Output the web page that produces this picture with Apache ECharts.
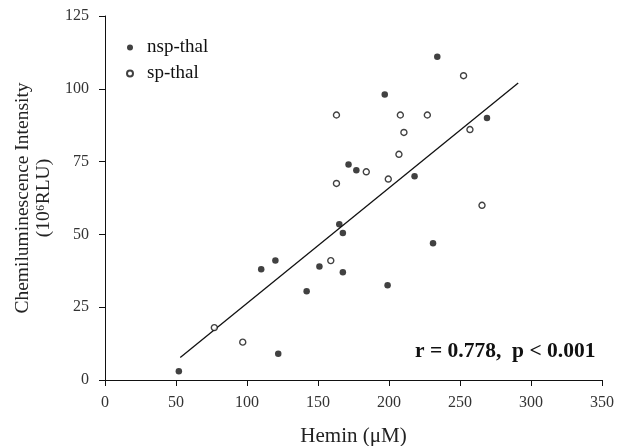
<!DOCTYPE html>
<html>
<head>
<meta charset="utf-8">
<script src="https://cdn.jsdelivr.net/npm/echarts@6/dist/echarts.min.js"></script>
<style>
  html, body { margin: 0; padding: 0; background: #fff; }
  #chart { width: 623px; height: 446px; }
</style>
</head>
<body>
<div id="chart"></div>
<script>
// nsp-thal: [hemin, intensity]
const nspThal = [
  [52, 3], [110, 38], [120, 41], [122, 9], [142, 30.5],
  [151, 39], [165, 53.5], [167.5, 50.5], [167.5, 37], [171.5, 74],
  [177, 72], [197, 98], [199, 32.5], [218, 70], [231, 47],
  [234, 111], [269, 90]
]
// sp-thal
const spThal = [
  [77, 18], [97, 13], [159, 41], [163, 91], [163, 67.5],
  [184, 71.5], [199.5, 69], [207, 77.5], [208, 91], [210.5, 85],
  [227, 91], [252.5, 104.5], [257, 86], [265.5, 60]
]
// 回归线两端
const fitLine = [[53, 7.7], [291, 102]]

const xTicks = { min: 0, max: 350, interval: 50 }
const yTicks = { min: 0, max: 125, interval: 25 }

const serif = '"Liberation Serif", "DejaVu Serif", serif'
const ink = '#111'

const chart = echarts.init(document.getElementById('chart'))

const axisCommon = {
  axisLine: { show: true, lineStyle: { color: ink, width: 1 } },
  axisTick: { show: true, inside: false, length: 6, lineStyle: { color: ink } },
  splitLine: { show: false },
}

const option = {
  backgroundColor: '#fff',
  animation: false,
  textStyle: { fontFamily: serif, color: ink },
  grid: { left: 105, right: 21, top: 16, bottom: 66, outerBoundsMode: 'none', containLabel: false },
  legend: {
    orient: 'vertical',
    left: 121,
    top: 33,
    itemWidth: 6,
    itemHeight: 6,
    itemGap: 7,
    icon: 'circle',
    textStyle: { fontFamily: serif, fontSize: 19, color: ink, padding: [0, 0, 0, 9] },
    data: ['nsp-thal', 'sp-thal'],
  },
  xAxis: {
    ...axisCommon,
    type: 'value',
    ...xTicks,
    name: 'Hemin (μM)',
    nameLocation: 'middle',
    nameGap: 46,
    nameTextStyle: { fontFamily: serif, fontSize: 21, color: '#222' },
    axisLabel: { fontFamily: serif, fontSize: 16, color: '#333', margin: 15 },
  },
  yAxis: {
    ...axisCommon,
    type: 'value',
    ...yTicks,
    name: 'Chemiluminescence Intensity\n(10⁶RLU)',
    nameLocation: 'middle',
    nameGap: 50,
    nameTextStyle: { fontFamily: serif, fontSize: 19.5, color: '#222', lineHeight: 21, align: 'center' },
    axisLabel: { fontFamily: serif, fontSize: 16, color: '#333', margin: 16 },
  },
  series: [
    {
      name: 'fit',
      type: 'line',
      data: fitLine,
      symbol: 'none',
      lineStyle: { color: ink, width: 1.3 },
      silent: true,
      z: 1,
    },
    {
      name: 'nsp-thal',
      type: 'scatter',
      data: nspThal,
      symbol: 'circle',
      symbolSize: 6.5,
      itemStyle: { color: ink },
      z: 3,
    },
    {
      name: 'sp-thal',
      type: 'scatter',
      data: spThal,
      symbol: 'circle',
      symbolSize: 6,
      itemStyle: { color: '#fff', borderColor: ink, borderWidth: 1.4 },
      z: 3,
    },
  ],
  graphic: [
    {
      type: 'text',
      left: 415,
      top: 340,
      style: {
        text: 'r = 0.778,  p < 0.001',
        font: 'bold 21.5px ' + serif,
        fill: ink,
      },
    },
  ],
}

chart.setOption(option)
</script>
</body>
</html>
